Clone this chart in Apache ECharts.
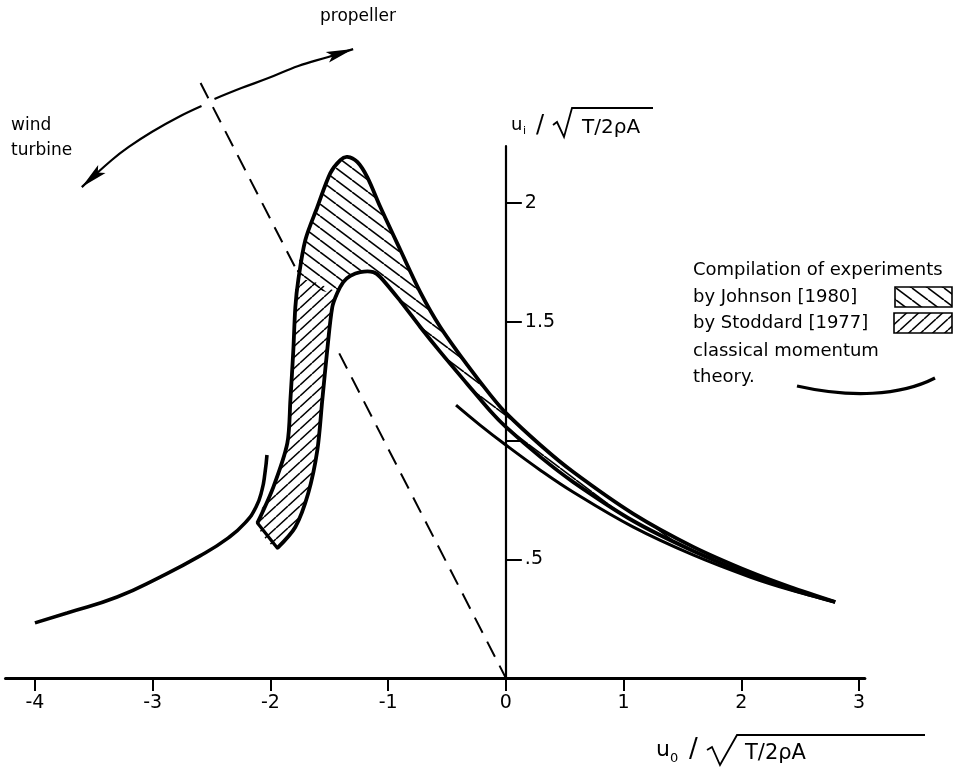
<!DOCTYPE html>
<html>
<head>
<meta charset="utf-8">
<title>Induced velocity vs axial velocity</title>
<script src="https://cdn.jsdelivr.net/npm/echarts@6/dist/echarts.min.js"></script>
<style>
  html, body { margin: 0; padding: 0; background: #fff; }
  #chart { width: 967px; height: 780px; }
</style>
</head>
<body>
<div id="chart"></div>
<script>
// ticks and labels
var xTicks = [-4, -3, -2, -1, 0, 1, 2, 3];
var yTicks = [0.5, 1, 1.5, 2];
var yLabels = [0.5, 1.5, 2];

// outer edge of the experimental band: lower left corner, over the peak, to the right end
var outerEdge = [
  [-2.110, 0.653], [-1.975, 0.804], [-1.856, 0.989], [-1.830, 1.171],
  [-1.805, 1.381], [-1.788, 1.562], [-1.763, 1.676], [-1.703, 1.844],
  [-1.601, 1.983], [-1.491, 2.126], [-1.406, 2.181], [-1.347, 2.194],
  [-1.262, 2.173], [-1.177, 2.109], [-1.066, 1.983], [-0.896, 1.802],
  [-0.727, 1.625], [-0.557, 1.478], [-0.328, 1.318], [-0.132, 1.192],
  [0.0, 1.116], [0.293, 0.981], [0.573, 0.867], [1.083, 0.691],
  [1.592, 0.552], [2.076, 0.446], [2.416, 0.383], [2.798, 0.320]
];
// inner edge of the band
var innerEdge = [
  [-1.941, 0.547], [-1.788, 0.636], [-1.678, 0.779], [-1.601, 0.960],
  [-1.559, 1.171], [-1.517, 1.381], [-1.474, 1.562], [-1.432, 1.621],
  [-1.381, 1.667], [-1.321, 1.693], [-1.236, 1.709], [-1.126, 1.709],
  [-1.066, 1.688], [-0.896, 1.587], [-0.727, 1.478], [-0.557, 1.373],
  [-0.328, 1.238], [-0.132, 1.124], [0.0, 1.057], [0.293, 0.931],
  [0.573, 0.825], [1.083, 0.661], [1.592, 0.535], [2.076, 0.434],
  [2.416, 0.375], [2.798, 0.320]
];
// where Johnson's hatch takes over from Stoddard's
var outerSplit = 6;
var innerSplit = 7;

// classical momentum theory
var momentumClimb = [
  [-0.423, 1.149], [-0.219, 1.065], [0.0, 0.981], [0.290, 0.876],
  [0.571, 0.783], [1.080, 0.636], [1.590, 0.518], [2.074, 0.425],
  [2.414, 0.371], [2.796, 0.320]
];
var momentumWindmill = [
  [-4.0, 0.232], [-3.727, 0.274], [-3.302, 0.341], [-2.937, 0.425],
  [-2.598, 0.514], [-2.360, 0.589], [-2.215, 0.653], [-2.122, 0.720],
  [-2.071, 0.792], [-2.046, 0.863], [-2.029, 0.939]
];

// dashed line, broken where it crosses the band
var dashUpper = [[-2.593, 2.505], [-1.780, 1.720]];
var dashLower = [[-1.415, 1.367], [0, 0]];

// wind turbine <-> propeller arrow
var arcLeft = [
  [-3.602, 2.067], [-3.347, 2.181], [-3.203, 2.236], [-3.008, 2.299],
  [-2.780, 2.362], [-2.585, 2.408]
];
var arcRight = [
  [-2.475, 2.438], [-2.246, 2.484], [-2.017, 2.526], [-1.763, 2.577],
  [-1.508, 2.615], [-1.297, 2.648]
];

// hatch tiles
function hatch(w, h, rising, lw) {
  var c = document.createElement('canvas');
  c.width = w;
  c.height = h;
  var g = c.getContext('2d');
  g.strokeStyle = '#000';
  g.lineWidth = lw;
  for (var k = -1; k <= 1; k++) {
    g.beginPath();
    if (rising) {
      g.moveTo(k * w, h);
      g.lineTo(k * w + w, 0);
    } else {
      g.moveTo(k * w, 0);
      g.lineTo(k * w + w, h);
    }
    g.stroke();
  }
  return { image: c, repeat: 'repeat' };
}
var johnsonFill = hatch(16, 12, false, 1.6);
var stoddardFill = hatch(12, 11, true, 1.5);

var FONT = '"DejaVu Sans", sans-serif';

function arrowHead(tip, from, len, half) {
  var dx = tip[0] - from[0], dy = tip[1] - from[1];
  var d = Math.sqrt(dx * dx + dy * dy);
  var ux = dx / d, uy = dy / d;
  var bx = tip[0] - ux * len, by = tip[1] - uy * len;
  return [tip, [bx - uy * half, by + ux * half], [tip[0] - ux * len * 0.8, tip[1] - uy * len * 0.8], [bx + uy * half, by - ux * half]];
}

function txt(x, y, s, size) {
  return { type: 'text', x: x, y: y, style: { text: s, font: size + 'px ' + FONT, fill: '#000', verticalAlign: 'middle' } };
}

var gridLeft = 5.5, gridRight = 102.1, xMin = -4.25, xMax = 3.05;
// pixel distance from the right edge of the grid back to x = 0, so the y axis sits there
var zeroOffset = (967 - gridRight - gridLeft) * (xMax / (xMax - xMin));

var chart = echarts.init(document.getElementById('chart'));
chart.setOption({
  animation: false,
  backgroundColor: '#fff',
  grid: { left: gridLeft, right: gridRight, top: 146, bottom: 102 },
  xAxis: {
    type: 'value',
    min: xMin,
    max: xMax,
    splitLine: { show: false },
    axisLine: { onZero: true, lineStyle: { color: '#000', width: 3 } },
    axisTick: { customValues: xTicks, length: 13, lineStyle: { color: '#000', width: 2 } },
    axisLabel: {
      customValues: xTicks,
      margin: 16,
      color: '#000',
      fontSize: 19,
      fontFamily: FONT
    }
  },
  yAxis: {
    type: 'value',
    position: 'right',
    offset: -zeroOffset,
    min: 0,
    max: 2.24,
    splitLine: { show: false },
    axisLine: { onZero: false, lineStyle: { color: '#000', width: 2.2 } },
    axisTick: { customValues: yTicks, length: 16, lineStyle: { color: '#000', width: 2 } },
    axisLabel: {
      customValues: yLabels,
      margin: 19,
      color: '#000',
      fontSize: 19,
      fontFamily: FONT,
      formatter: function (v) { return v === 0.5 ? '.5' : String(v); }
    }
  },
  series: [
    {
      name: 'band',
      type: 'custom',
      coordinateSystem: 'cartesian2d',
      clip: false,
      data: [[0, 0]],
      renderItem: function (params, api) {
        var outer = outerEdge.map(function (p) { return api.coord(p); });
        var inner = innerEdge.map(function (p) { return api.coord(p); });
        var johnson = outer.slice(outerSplit).concat(inner.slice(innerSplit, -1).reverse());
        var stoddard = outer.slice(0, outerSplit + 1).concat(inner.slice(0, innerSplit + 1).reverse());
        return {
          type: 'group',
          children: [
            { type: 'polygon', shape: { points: johnson, smooth: 0.3 }, style: { fill: johnsonFill } },
            { type: 'polygon', shape: { points: stoddard, smooth: 0.3 }, style: { fill: stoddardFill } },
            { type: 'polyline', shape: { points: outer, smooth: 0.3 }, style: { fill: null, stroke: '#000', lineWidth: 3.8, lineJoin: 'round' } },
            { type: 'polyline', shape: { points: inner, smooth: 0.3 }, style: { fill: null, stroke: '#000', lineWidth: 3.8, lineJoin: 'round' } },
            { type: 'line', shape: { x1: outer[0][0], y1: outer[0][1], x2: inner[0][0], y2: inner[0][1] }, style: { stroke: '#000', lineWidth: 3.2, lineCap: 'round' } }
          ]
        };
      },
      z: 3
    },
    {
      name: 'momentum climb',
      type: 'line',
      data: momentumClimb,
      smooth: 0.4,
      showSymbol: false,
      lineStyle: { color: '#000', width: 3 },
      z: 4
    },
    {
      name: 'momentum windmill',
      type: 'line',
      data: momentumWindmill,
      smooth: 0.5,
      showSymbol: false,
      lineStyle: { color: '#000', width: 3.6 },
      z: 4
    },
    {
      name: 'ideal',
      type: 'lines',
      coordinateSystem: 'cartesian2d',
      clip: false,
      data: [{ coords: dashUpper }, { coords: dashLower }],
      lineStyle: { color: '#000', width: 2, type: [17, 10], opacity: 1 },
      z: 2
    },
    {
      name: 'arc',
      type: 'custom',
      coordinateSystem: 'cartesian2d',
      clip: false,
      data: [[0, 0]],
      renderItem: function (params, api) {
        var l = arcLeft.map(function (p) { return api.coord(p); });
        var r = arcRight.map(function (p) { return api.coord(p); });
        return {
          type: 'group',
          children: [
            { type: 'polyline', shape: { points: l, smooth: 0.4 }, style: { fill: null, stroke: '#000', lineWidth: 2.2 } },
            { type: 'polyline', shape: { points: r, smooth: 0.4 }, style: { fill: null, stroke: '#000', lineWidth: 2.2 } },
            { type: 'polygon', shape: { points: arrowHead(l[0], l[1], 27, 5.5) }, style: { fill: '#000' } },
            { type: 'polygon', shape: { points: arrowHead(r[r.length - 1], r[r.length - 2], 27, 5.5) }, style: { fill: '#000' } }
          ]
        };
      },
      z: 4
    }
  ],
  graphic: [
    txt(320, 17, 'propeller', 17),
    txt(11, 126, 'wind', 17),
    txt(11, 151, 'turbine', 17),

    // y axis name
    txt(511, 125, 'u', 18),
    txt(523, 131, 'i', 11),
    txt(536, 126, '/', 24),
    { type: 'polyline', shape: { points: [[553, 125], [557, 122], [564, 137], [572, 108], [653, 108]] }, style: { stroke: '#000', lineWidth: 1.8, fill: null } },
    txt(582, 128, 'T/2\u03C1A', 20),

    // x axis name
    txt(656, 750, 'u', 22),
    txt(670, 759, '0', 13),
    txt(689, 750, '/', 26),
    { type: 'polyline', shape: { points: [[707, 750], [712, 747], [720, 765], [737, 735], [925, 735]] }, style: { stroke: '#000', lineWidth: 1.8, fill: null } },
    txt(745, 754, 'T/2\u03C1A', 21),

    // legend
    txt(693, 270, 'Compilation of experiments', 18),
    txt(693, 297, 'by Johnson [1980]', 18),
    { type: 'rect', shape: { x: 895, y: 287, width: 57, height: 20 }, style: { fill: johnsonFill, stroke: '#000', lineWidth: 1.6 } },
    txt(693, 323, 'by Stoddard [1977]', 18),
    { type: 'rect', shape: { x: 894, y: 313, width: 58, height: 20 }, style: { fill: stoddardFill, stroke: '#000', lineWidth: 1.6 } },
    txt(693, 351, 'classical momentum', 18),
    txt(693, 377, 'theory.', 18),
    { type: 'bezierCurve', shape: { x1: 797, y1: 386, cpx1: 850, cpy1: 398, cpx2: 900, cpy2: 396, x2: 935, y2: 378 }, style: { stroke: '#000', lineWidth: 3.2, fill: null } }
  ]
});
</script>
</body>
</html>
